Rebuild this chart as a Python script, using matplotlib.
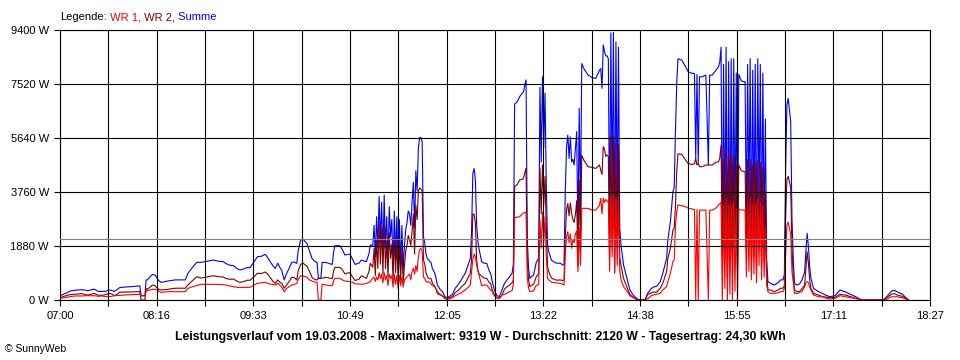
import matplotlib
matplotlib.use("Agg")
import matplotlib.pyplot as plt
import numpy as np

# minutes after 07:00, power of the two inverters in W
minutes = [
    0, 3, 5, 8, 12, 17, 20, 22, 25, 27,
    30, 33, 36, 39, 41, 43, 45, 47, 52, 57,
    60, 63, 64, 67, 68, 69, 71, 73, 75, 76,
    78, 80, 85, 91, 99, 101, 104, 106, 108, 111,
    115, 118, 121, 125, 129, 131, 134, 137, 140, 142,
    145, 148, 150, 153, 156, 159, 162, 164, 166, 168,
    170, 172, 174, 175, 177, 179, 181, 183, 185, 187,
    188, 190, 192, 194, 195, 197, 199, 201, 203, 204,
    206, 207, 210, 213, 215, 216, 217, 221, 223, 225,
    227, 229, 231, 233, 236, 238, 240, 242, 244, 245,
    247, 248, 249, 250, 251, 252, 253, 254, 255, 256,
    257, 258, 259, 260, 261, 262, 263, 264, 265, 266,
    267, 268, 269, 270, 271, 272, 273, 274, 275, 276,
    277, 278, 279, 280, 281, 282, 283, 284, 285, 286,
    287, 288, 289, 290, 291, 292, 293, 294, 296, 297,
    298, 300, 302, 304, 306, 308, 310, 312, 314, 316,
    318, 320, 322, 324, 325, 326, 327, 328, 329, 330,
    331, 333, 335, 337, 339, 340, 342, 343, 345, 347,
    349, 351, 353, 355, 357, 358, 359, 361, 363, 365,
    366, 367, 368, 369, 370, 371, 372, 374, 376, 377,
    378, 379, 380, 381, 382, 383, 384, 385, 386, 388,
    391, 393, 395, 397, 398, 399, 400, 401, 402, 403,
    404, 405, 406, 407, 408, 409, 410, 411, 412, 414,
    417, 420, 423, 426, 427, 428, 429, 430, 431, 432,
    433, 434, 435, 436, 437, 438, 439, 440, 441, 442,
    443, 445, 448, 450, 453, 456, 458, 462, 464, 467,
    469, 471, 474, 476, 479, 480, 482, 484, 485, 486,
    487, 488, 491, 494, 496, 499, 501, 502, 503, 504,
    505, 507, 510, 512, 513, 515, 518, 520, 521, 522,
    523, 524, 525, 526, 527, 528, 529, 530, 531, 532,
    533, 534, 535, 536, 538, 540, 541, 542, 543, 544,
    545, 546, 547, 548, 549, 550, 551, 552, 553, 554,
    555, 556, 557, 558, 559, 561, 564, 567, 569, 571,
    572, 573, 574, 575, 576, 577, 578, 579, 580, 582,
    584, 586, 588, 589, 590, 591, 592, 593, 595, 599,
    602, 605, 608, 612, 614, 616, 618, 620, 624, 628,
    631, 633, 650, 653, 655, 657, 659, 661, 663, 665,
    668, 670,
]

wr1 = [
    60, 80, 90, 120, 140, 140, 150, 150, 150, 150,
    130, 140, 115, 115, 130, 150, 160, 160, 175, 185,
    190, 200, 150, 150, 300, 325, 350, 370, 370, 360,
    300, 265, 290, 290, 290, 405, 450, 480, 500, 545,
    545, 545, 545, 540, 535, 520, 490, 465, 440, 430,
    440, 440, 440, 520, 580, 600, 615, 580, 555, 540,
    520, 580, 500, 450, 290, 405, 460, 520, 540, 580,
    700, 845, 835, 810, 790, 700, 660, 630, 615, 0,
    0, 550, 520, 500, 500, 650, 755, 755, 700, 660,
    650, 640, 620, 560, 560, 545, 560, 580, 620, 640,
    760, 800, 650, 800, 700, 950, 750, 900, 600, 950,
    700, 850, 500, 900, 750, 850, 450, 900, 550, 850,
    400, 850, 500, 800, 450, 700, 750, 800, 850, 900,
    700, 1000, 1100, 900, 1200, 1000, 1500, 1750, 1800, 1700,
    800, 750, 650, 620, 640, 600, 560, 500, 465, 380,
    300, 200, 150, 40, 20, 50, 80, 150, 190, 230,
    290, 350, 430, 520, 985, 1400, 1600, 1500, 1220, 1000,
    850, 500, 520, 520, 400, 350, 290, 200, 80, 60,
    175, 200, 240, 290, 330, 550, 2870, 2880, 2900, 3000,
    3020, 3050, 3070, 780, 405, 290, 300, 320, 500, 520,
    545, 2800, 1800, 3060, 2000, 2900, 1500, 755, 700, 620,
    600, 590, 580, 545, 520, 1565, 2200, 2380, 2000, 2300,
    1800, 2100, 2000, 2300, 2400, 985, 2500, 1200, 3190, 3190,
    3190, 3130, 3130, 3300, 3540, 3000, 3540, 3400, 3500, 3450,
    3400, 1000, 3600, 1500, 3620, 985, 3540, 1200, 3400, 1000,
    720, 465, 290, 150, 70, 10, 0, 0, 40, 150,
    180, 200, 230, 350, 465, 640, 930, 1335, 1400, 2600,
    3070, 3310, 3280, 3250, 3200, 3170, 3150, 0, 3150, 0,
    3130, 3130, 3130, 0, 3130, 3130, 3200, 3310, 3350, 3400,
    0, 3300, 400, 3500, 0, 3300, 200, 3300, 0, 3400,
    300, 3200, 0, 3150, 3130, 3130, 3130, 800, 3300, 1000,
    3500, 700, 3300, 900, 3400, 600, 3540, 1200, 3400, 700,
    3300, 800, 2500, 520, 290, 230, 230, 250, 290, 290,
    400, 1600, 2600, 2710, 2500, 2300, 1000, 640, 230, 230,
    260, 300, 465, 600, 640, 600, 450, 350, 175, 115,
    110, 60, 35, 60, 100, 150, 130, 115, 80, 60,
    20, 0, 0, 25, 80, 115, 110, 115, 90, 80,
    30, 0,
]

wr2 = [
    80, 130, 150, 190, 200, 220, 190, 170, 210, 230,
    170, 160, 185, 235, 200, 150, 200, 270, 280, 280,
    290, 290, 0, 0, 400, 375, 450, 520, 500, 450,
    370, 350, 370, 410, 410, 525, 650, 730, 810, 765,
    790, 820, 845, 810, 800, 750, 720, 730, 650, 615,
    640, 690, 685, 800, 930, 920, 975, 900, 780, 660,
    580, 700, 600, 595, 410, 525, 650, 790, 780, 695,
    1000, 1245, 1285, 1200, 1180, 1000, 790, 720, 695, 755,
    755, 760, 790, 760, 740, 1000, 1135, 1135, 1050, 905,
    940, 950, 800, 680, 720, 845, 800, 755, 1000, 1275,
    1140, 1800, 850, 2100, 1100, 2650, 1250, 2500, 900, 2700,
    1100, 2050, 800, 2350, 1450, 1950, 650, 2200, 950, 2050,
    650, 1950, 700, 1800, 600, 1200, 1700, 1900, 2250, 2100,
    1900, 2400, 3000, 1600, 3300, 2800, 3800, 3900, 3860, 3800,
    1400, 1250, 950, 830, 760, 750, 740, 600, 465, 360,
    220, 180, 140, 75, 60, 90, 120, 255, 320, 410,
    500, 580, 760, 930, 1395, 3000, 2980, 2700, 1390, 1030,
    900, 835, 760, 755, 600, 580, 230, 150, 70, 60,
    170, 380, 460, 520, 600, 700, 3950, 4020, 4180, 4200,
    4230, 4430, 4590, 1370, 695, 465, 500, 550, 800, 870,
    905, 4600, 3000, 4710, 3300, 4300, 2500, 1160, 980, 770,
    700, 690, 700, 675, 700, 2205, 3140, 3360, 2930, 3380,
    3010, 2800, 2700, 2980, 3460, 1165, 4170, 1900, 5040, 4840,
    4640, 4620, 4580, 4700, 4520, 4370, 5340, 5240, 5000, 5050,
    5000, 1500, 5700, 2000, 5699, 930, 5450, 1800, 5400, 1500,
    1195, 755, 410, 200, 80, 20, 0, 0, 190, 250,
    280, 270, 410, 580, 985, 1450, 1800, 2435, 2500, 3260,
    4470, 5090, 5070, 4870, 4750, 4720, 4740, 4930, 4700, 4750,
    4640, 4640, 4700, 4700, 4700, 4700, 4800, 4810, 4940, 5400,
    1500, 4900, 1400, 5300, 800, 5000, 1200, 5100, 1500, 5000,
    2000, 4700, 1100, 4700, 4500, 4470, 4470, 1700, 4900, 2000,
    4900, 1000, 4700, 1500, 4800, 900, 4860, 2000, 4800, 1100,
    4600, 1300, 3800, 930, 350, 350, 290, 350, 410, 410,
    500, 2980, 4190, 4310, 4110, 3910, 1840, 810, 350, 290,
    300, 400, 520, 1100, 1680, 1260, 700, 405, 230, 175,
    120, 100, 80, 90, 150, 200, 180, 175, 120, 60,
    30, 0, 0, 90, 150, 210, 220, 175, 150, 130,
    50, 0,
]

summe = [a + b for a, b in zip(wr1, wr2)]

average_w = 2120
y_ticks = [0, 1880, 3760, 5640, 7520, 9400]
x_labels = ["07:00", "08:16", "09:33", "10:49", "12:05",
            "13:22", "14:38", "15:55", "17:11", "18:27"]
day_minutes = 687

title = ("Leistungsverlauf vom 19.03.2008 - Maximalwert: 9319 W - "
         "Durchschnitt: 2120 W - Tagesertrag: 24,30 kWh")

assert len(minutes) == len(wr1) == len(wr2)

plt.rcParams["font.family"] = ["Liberation Sans", "DejaVu Sans"]

fig = plt.figure(figsize=(9.6, 3.6), dpi=100)
ax = fig.add_axes([60 / 960, 60 / 360, 870 / 960, 270 / 360])

lw = 0.8
ax.plot(minutes, summe, color="#0000ff", linewidth=lw)
ax.plot(minutes, wr2, color="#800000", linewidth=lw)
ax.plot(minutes, wr1, color="#ff0000", linewidth=lw)
ax.axhline(average_w, color="#808080", linewidth=lw, zorder=3)

ax.set_xlim(0, day_minutes)
ax.set_ylim(0, 9400)

grid_x = np.linspace(0, day_minutes, 19)
ax.set_xticks(grid_x)
tick_texts = []
for i in range(len(grid_x)):
    tick_texts.append(x_labels[i // 2] if i % 2 == 0 else "")
ax.set_xticklabels(tick_texts)
ax.set_yticks(y_ticks)
ax.set_yticklabels([f"{v} W" for v in y_ticks])

ax.tick_params(axis="both", direction="out", length=4, width=0.8,
               color="black", labelsize=8, pad=4)
ax.grid(True, color="black", linewidth=lw)
ax.set_axisbelow(False)
for s in ax.spines.values():
    s.set_linewidth(lw)
    s.set_color("black")

# legend line at the top
t0 = fig.text(60 / 960, 1 - 17 / 360, "Legende:", fontsize=8,
              color="black", ha="left", va="center")
t1 = ax.annotate(" WR 1,", xy=(1, 0), xycoords=t0, fontsize=8,
                 color="#ff0000", ha="left", va="bottom", annotation_clip=False)
t2 = ax.annotate(" WR 2,", xy=(1, 0), xycoords=t1, fontsize=8,
                 color="#800000", ha="left", va="bottom", annotation_clip=False)
ax.annotate(" Summe", xy=(1, 0), xycoords=t2, fontsize=8,
            color="#0000ff", ha="left", va="bottom", annotation_clip=False)

fig.text(480 / 960, 1 - 337 / 360, title, fontsize=8.8, fontweight="bold",
         ha="center", va="center")
fig.text(5 / 960, 1 - 349 / 360, "\u00a9 SunnyWeb", fontsize=7.5,
         ha="left", va="center")

fig.savefig("out.png", dpi=100, facecolor="white")
